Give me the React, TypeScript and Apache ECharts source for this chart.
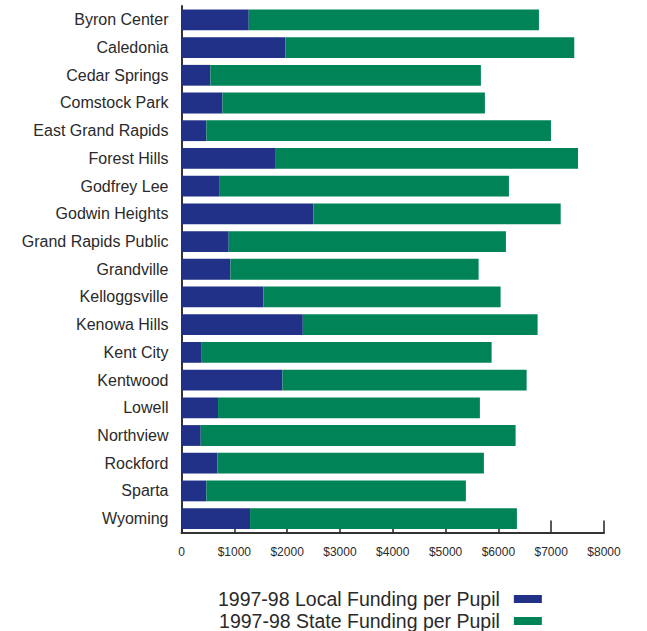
import React, { useEffect, useRef } from "react";
import * as echarts from "echarts";

const categories = [
  "Byron Center",
  "Caledonia",
  "Cedar Springs",
  "Comstock Park",
  "East Grand Rapids",
  "Forest Hills",
  "Godfrey Lee",
  "Godwin Heights",
  "Grand Rapids Public",
  "Grandville",
  "Kelloggsville",
  "Kenowa Hills",
  "Kent City",
  "Kentwood",
  "Lowell",
  "Northview",
  "Rockford",
  "Sparta",
  "Wyoming",
];

const localFunding = [
  1273, 1968, 547, 775, 471, 1785, 724, 2499, 894, 926, 1551, 2297, 383, 1911,
  692, 364, 680, 471, 1298,
];

const stateFunding = [
  5495, 5469, 5122, 4970, 6525, 5723, 5476, 4681, 5249, 4700, 4491, 4446, 5489,
  4624, 4958, 5962, 5046, 4914, 5053,
];

const seriesNames = [
  "1997-98 Local Funding per Pupil",
  "1997-98 State Funding per Pupil",
];

const FONT = "'Liberation Sans', Arial, Helvetica, sans-serif";

export default function App() {
  const ref = useRef<HTMLDivElement>(null);

  useEffect(() => {
    document.body.style.margin = "0";
    if (!ref.current) return;
    const chart = echarts.init(ref.current, undefined, { renderer: "svg" });
    chart.setOption({
      animation: false,
      backgroundColor: "#ffffff",
      textStyle: { fontFamily: FONT },
      grid: {
        left: 181.5,
        right: 43,
        top: 6,
        bottom: 98.5,
        containLabel: false,
      },
      legend: {
        orient: "vertical",
        left: 218,
        top: 589,
        padding: 0,
        align: "right",
        itemGap: 2,
        itemWidth: 28,
        itemHeight: 8,
        icon: "rect",
        selectedMode: false,
        textStyle: {
          fontFamily: FONT,
          fontSize: 19.5,
          lineHeight: 19.5,
          color: "#2a2a2a",
          padding: [0, 9, 0, 0],
        },
        data: seriesNames,
      },
      xAxis: {
        type: "value",
        min: 0,
        max: 8000,
        interval: 1000,
        splitLine: { show: false },
        axisLine: { show: true, lineStyle: { color: "#333333", width: 2 } },
        axisTick: {
          show: true,
          inside: true,
          length: 12,
          lineStyle: { color: "#222222", width: 1.5 },
        },
        axisLabel: {
          margin: 13,
          fontSize: 12,
          color: "#2a2a2a",
          fontFamily: FONT,
          formatter: (v: number) => (v === 0 ? "0" : "$" + v),
        },
      },
      yAxis: {
        type: "category",
        data: categories,
        inverse: true,
        axisLine: { show: true, lineStyle: { color: "#333333", width: 2 } },
        axisTick: { show: false },
        axisLabel: {
          margin: 13,
          fontSize: 16,
          color: "#2a2a2a",
          fontFamily: FONT,
        },
      },
      series: [
        {
          name: seriesNames[0],
          type: "bar",
          stack: "total",
          data: localFunding,
          barWidth: "75%",
          itemStyle: { color: "#213187" },
        },
        {
          name: seriesNames[1],
          type: "bar",
          stack: "total",
          data: stateFunding,
          barWidth: "75%",
          itemStyle: { color: "#008457" },
        },
      ],
    });
    return () => chart.dispose();
  }, []);

  return (
    <div
      ref={ref}
      style={{ position: "absolute", left: 0, top: 0, width: 647, height: 631 }}
    />
  );
}
